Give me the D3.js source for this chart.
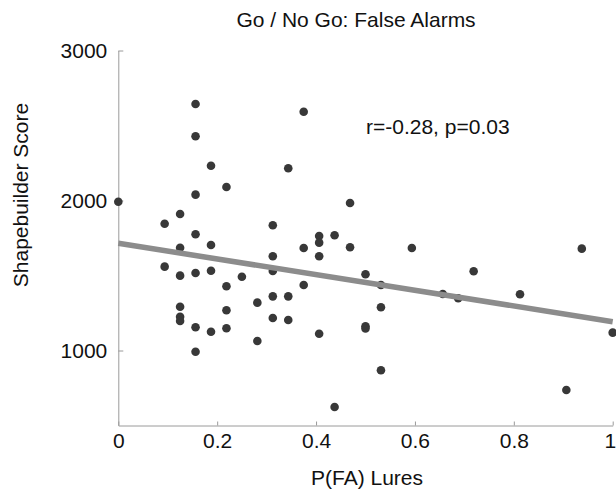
<!DOCTYPE html>
<html>
<head>
<meta charset="utf-8">
<script src="https://cdn.jsdelivr.net/npm/d3@7"></script>
<style>
  body { margin: 0; background: #fff; }
  svg { display: block; font-family: "Liberation Sans", Arial, Helvetica, sans-serif; }
</style>
</head>
<body>
<div id="chart"></div>
<script>
// P(FA) on lures vs Shapebuilder score, one point per subject
const pfa = [
  0, 0.09375, 0.09375, 0.125, 0.125, 0.125, 0.125, 0.125, 0.125,
  0.15625, 0.15625, 0.15625, 0.15625, 0.15625, 0.15625, 0.15625,
  0.1875, 0.1875, 0.1875, 0.1875, 0.21875, 0.21875, 0.21875, 0.21875,
  0.25, 0.28125, 0.28125, 0.3125, 0.3125, 0.3125, 0.3125, 0.3125,
  0.34375, 0.34375, 0.34375, 0.375, 0.375, 0.375, 0.40625, 0.40625,
  0.40625, 0.40625, 0.4375, 0.4375, 0.46875, 0.46875, 0.5, 0.5, 0.5,
  0.53125, 0.53125, 0.53125, 0.59375, 0.65625, 0.6875, 0.71875,
  0.8125, 0.90625, 0.9375, 1
];
const score = [
  1992, 1845, 1559, 1910, 1685, 1499, 1292, 1225, 1197,
  2643, 2428, 2039, 1775, 1517, 1155, 992,
  2232, 1703, 1532, 1125, 2090, 1428, 1268, 1148,
  1492, 1319, 1063, 1835, 1628, 1530, 1361, 1217,
  2215, 1361, 1203, 2592, 1683, 1437, 1763, 1719,
  1628, 1112, 1768, 623, 1983, 1688, 1508, 1162, 1147,
  1437, 1288, 868, 1683, 1377, 1348, 1528,
  1375, 737, 1679, 1119
];
// least-squares fit as drawn in the figure
const fitX = [0, 1];
const fitY = [1715, 1192];
const xTicks = [0, 0.2, 0.4, 0.6, 0.8, 1];
const yTicks = [1000, 2000, 3000];

const width = 616, height = 489;
const margin = { left: 118.3, right: 3.3, top: 50.5, bottom: 63.5 };

const x_scale = d3.scaleLinear()
  .domain([0, 1])
  .range([margin.left, width - margin.right]);

const y_scale = d3.scaleLinear()
  .domain([500, 3000])
  .range([height - margin.bottom, margin.top]);

const svg = d3.select("#chart")
  .append("svg")
  .attr("width", width)
  .attr("height", height)
  .attr("viewBox", [0, 0, width, height]);

const axisColor = "#9a9a9a";
const fontSize = 21;

// x-axis, ticks pointing inward
svg.append("g")
  .attr("transform", `translate(0, ${height - margin.bottom})`)
  .call(d3.axisBottom(x_scale).tickValues(xTicks).tickSizeInner(-4).tickSizeOuter(0)
    .tickPadding(8).tickFormat(d3.format("~g")))
  .call((g) => g.select(".domain").attr("stroke", axisColor))
  .call((g) => g.selectAll(".tick line").attr("stroke", axisColor))
  .call((g) => g.selectAll(".tick text")
    .attr("fill", "#111")
    .attr("font-size", fontSize)
    .attr("font-family", "inherit"))
  // last label sits against the right edge
  .call((g) => g.selectAll(".tick text").filter((d) => d === 1)
    .attr("text-anchor", "end").attr("dx", 3));

// y-axis
svg.append("g")
  .attr("transform", `translate(${margin.left}, 0)`)
  .call(d3.axisLeft(y_scale).tickValues(yTicks).tickSizeInner(-5).tickSizeOuter(0)
    .tickPadding(11).tickFormat(d3.format("d")))
  .call((g) => g.select(".domain").attr("stroke", axisColor))
  .call((g) => g.selectAll(".tick line").attr("stroke", axisColor))
  .call((g) => g.selectAll(".tick text")
    .attr("fill", "#111")
    .attr("font-size", fontSize)
    .attr("font-family", "inherit"));

// points
svg.append("g")
  .selectAll("circle")
  .data(d3.range(pfa.length))
  .join("circle")
    .attr("cx", (i) => x_scale(pfa[i]))
    .attr("cy", (i) => y_scale(score[i]))
    .attr("r", 4.3)
    .attr("fill", "#383838");

// regression line
svg.append("line")
  .attr("x1", x_scale(fitX[0]))
  .attr("y1", y_scale(fitY[0]))
  .attr("x2", x_scale(fitX[1]))
  .attr("y2", y_scale(fitY[1]))
  .attr("stroke", "#8c8c8c")
  .attr("stroke-width", 5.5);

// title
svg.append("text")
  .attr("x", 356)
  .attr("y", 27)
  .attr("text-anchor", "middle")
  .attr("font-size", fontSize)
  .attr("fill", "#111")
  .text("Go / No Go: False Alarms");

// annotation
svg.append("text")
  .attr("x", 366)
  .attr("y", 134)
  .attr("font-size", fontSize)
  .attr("fill", "#111")
  .text("r=-0.28, p=0.03");

// axis labels
svg.append("text")
  .attr("x", 367)
  .attr("y", 485)
  .attr("text-anchor", "middle")
  .attr("font-size", fontSize)
  .attr("fill", "#111")
  .text("P(FA) Lures");

svg.append("text")
  .attr("transform", "translate(28, 195) rotate(-90)")
  .attr("text-anchor", "middle")
  .attr("font-size", fontSize)
  .attr("fill", "#111")
  .text("Shapebuilder Score");
</script>
</body>
</html>
